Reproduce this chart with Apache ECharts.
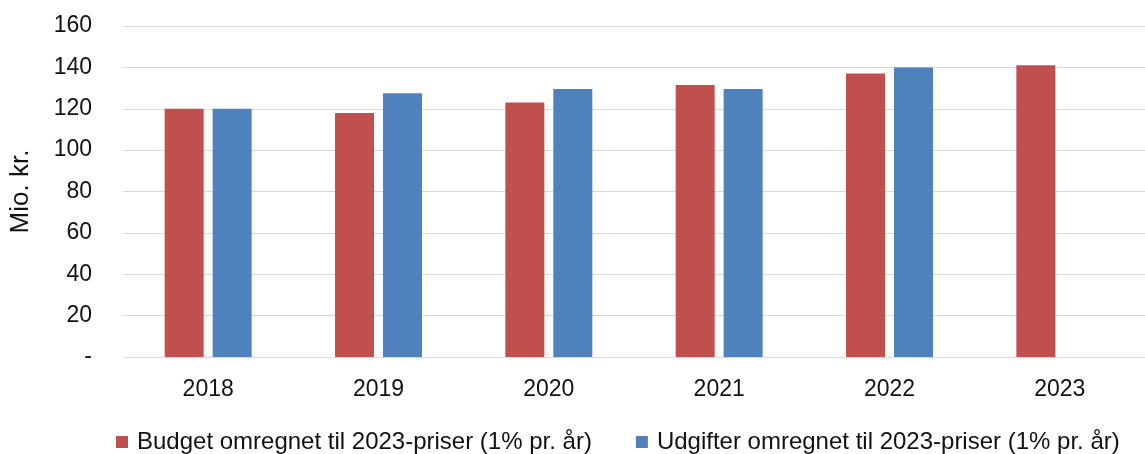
<!DOCTYPE html>
<html>
<head>
<meta charset="utf-8">
<script src="https://cdn.jsdelivr.net/npm/echarts@6/dist/echarts.min.js"></script>
<style>
html,body{margin:0;padding:0;background:#fff;}
#chart{width:1145px;height:454px;}
</style>
</head>
<body>
<div id="chart"></div>
<script>
var categories = ['2018', '2019', '2020', '2021', '2022', '2023'];
var budget = [120, 118, 123, 131.5, 137, 141];
var udgifter = [120, 127.5, 129.5, 129.5, 140, null];
var seriesNames = ['Budget omregnet til 2023-priser (1% pr. år)', 'Udgifter omregnet til 2023-priser (1% pr. år)'];
var yTicks = { min: 0, max: 160, interval: 20 };
var yAxisName = 'Mio. kr.';

var font = '"Liberation Sans", Arial, sans-serif';
var chart = echarts.init(document.getElementById('chart'), null, { renderer: 'canvas' });
chart.setOption({
  animation: false,
  backgroundColor: '#ffffff',
  grid: { left: 121, top: 26, width: 1026, bottom: 97, containLabel: false },
  legend: {
    left: 116,
    top: 430,
    padding: 0,
    itemWidth: 12,
    itemHeight: 12,
    itemGap: 44,
    icon: 'rect',
    textStyle: { fontFamily: font, fontSize: 24, color: '#111', padding: [0, 0, 0, 4] },
    data: seriesNames
  },
  xAxis: {
    type: 'category',
    data: categories,
    axisLine: { show: true, lineStyle: { color: '#d9d9d9', width: 1 } },
    axisTick: { show: false },
    axisLabel: { fontFamily: font, fontSize: 23, color: '#111', margin: 21 }
  },
  yAxis: {
    type: 'value',
    min: yTicks.min,
    max: yTicks.max,
    interval: yTicks.interval,
    name: yAxisName,
    nameLocation: 'middle',
    nameGap: 89,
    nameTextStyle: { fontFamily: font, fontSize: 26, color: '#111' },
    axisLine: { show: false },
    axisTick: { show: false },
    splitLine: { lineStyle: { color: '#d9d9d9', width: 1 } },
    axisLabel: {
      fontFamily: font, fontSize: 23, color: '#111', margin: 31,
      formatter: function (v) { return v === 0 ? '-' : String(v); }
    }
  },
  series: [
    {
      name: seriesNames[0],
      type: 'bar',
      data: budget,
      barWidth: 39,
      barGap: '23%',
      itemStyle: { color: '#c0504d' }
    },
    {
      name: seriesNames[1],
      type: 'bar',
      data: udgifter,
      barWidth: 39,
      barGap: '23%',
      itemStyle: { color: '#4f81bd' }
    }
  ]
});
</script>
</body>
</html>
